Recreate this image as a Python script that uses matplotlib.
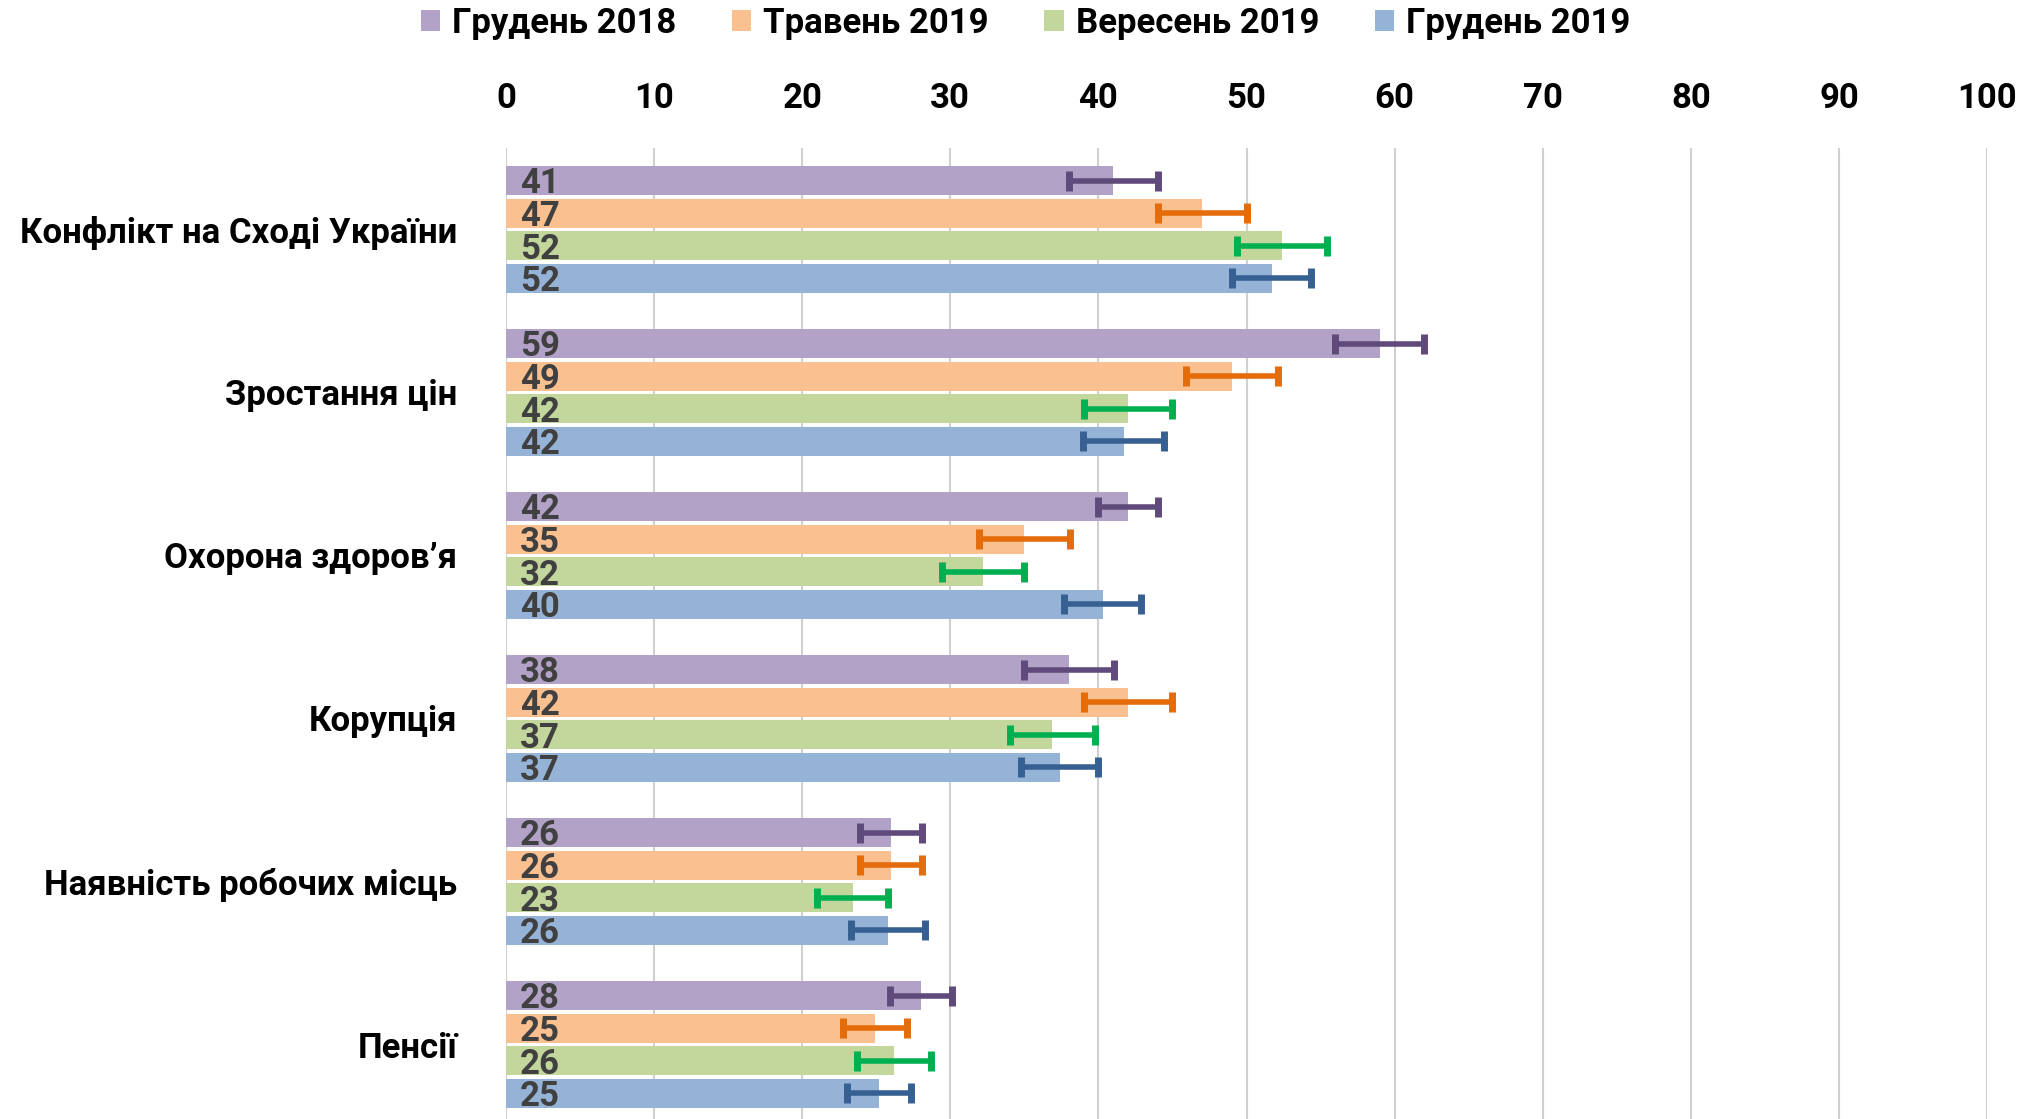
import numpy as np
import matplotlib
matplotlib.use("Agg")
from matplotlib import pyplot as plt
from matplotlib.patches import Patch

plt.rcParams['font.family'] = ['Roboto', 'DejaVu Sans']
plt.rcParams['font.weight'] = 'bold'

categories = ["Конфлікт на Сході України", "Зростання цін", "Охорона здоров’я",
              "Корупція", "Наявність робочих місць", "Пенсії"]
series_names = ["Грудень 2018", "Травень 2019", "Вересень 2019", "Грудень 2019"]

dec2018 = [41.0, 59.0, 42.0, 38.0, 26.0, 28.0]
may2019 = [47.0, 49.0, 35.0, 42.0, 26.0, 24.9]
sep2019 = [52.4, 42.0, 32.2, 36.9, 23.4, 26.2]
dec2019 = [51.7, 41.7, 40.3, 37.4, 25.8, 25.2]

err_dec2018 = [3.0, 3.0, 2.0, 3.05, 2.1, 2.1]
err_may2019 = [3.0, 3.1, 3.05, 3.0, 2.1, 2.15]
err_sep2019 = [3.05, 2.95, 2.75, 2.85, 2.4, 2.5]
err_dec2019 = [2.65, 2.75, 2.6, 2.6, 2.5, 2.15]

xticks = [0, 10, 20, 30, 40, 50, 60, 70, 80, 90, 100]

bar_colors = ["#B3A2C7", "#FAC090", "#C3D69B", "#95B3D7"]
err_colors = ["#604A7B", "#E46C0A", "#00B050", "#376092"]

values = [dec2018, may2019, sep2019, dec2019]
errors = [err_dec2018, err_may2019, err_sep2019, err_dec2019]

fig = plt.figure(figsize=(20.39, 11.19), dpi=100)
ax = fig.add_axes([506 / 2039, 1 - 1126 / 1119, 1481 / 2039, 978 / 1119])

n_cat = len(categories)
slot = 5  # 4 bars + gap
for j, (vals, errs) in enumerate(zip(values, errors)):
    y = np.arange(n_cat) * slot + j + 1
    ax.barh(y, vals, height=0.9, color=bar_colors[j], edgecolor="none", zorder=2)
    ax.errorbar(vals, y, xerr=errs, fmt="none", ecolor=err_colors[j],
                elinewidth=4, capsize=7, capthick=5, zorder=3)
    for yy, v in zip(y, vals):
        ax.text(0.95, yy + 0.1, f"{v:.0f}", ha="left", va="center",
                fontsize=25, color="#404040", fontweight="bold", zorder=4)

ax.set_xlim(0, 100)
ax.set_ylim(n_cat * slot, 0)
ax.set_xticks(xticks)
ax.xaxis.tick_top()
ax.tick_params(axis="x", length=0, pad=24, labelsize=25)
ax.set_yticks(np.arange(n_cat) * slot + 2.5)
ax.set_yticklabels(categories)
ax.tick_params(axis="y", length=0, pad=35, labelsize=25)
for s in ax.spines.values():
    s.set_visible(False)
ax.grid(axis="x", color="#D0D0D0", linewidth=1.5, zorder=0)
ax.set_axisbelow(True)

handles = [Patch(facecolor=c, edgecolor="none") for c in bar_colors]
fig.legend(handles, series_names, loc="center", bbox_to_anchor=(0.503, 1 - 23 / 1119),
           ncol=4, frameon=False, fontsize=25, handlelength=0.55, handleheight=0.55,
           handletextpad=0.35, columnspacing=1.6)

fig.savefig("out.png", dpi=100)
